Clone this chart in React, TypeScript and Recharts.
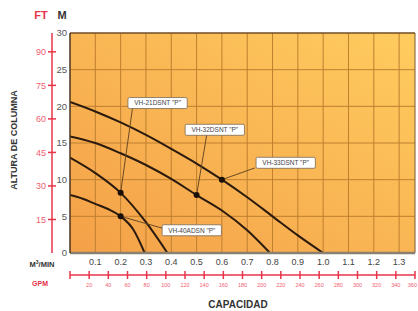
import React from "react";
import {
  CartesianGrid,
  LineChart,
  Line,
  ReferenceDot,
  ReferenceLine,
  XAxis,
  YAxis,
} from "recharts";

// pump curves: capacity in m3/min, head in m
const capA = [0, 0.05, 0.1, 0.15, 0.2, 0.25, 0.295];
const headA = [7.9, 7.4, 6.7, 6.0, 5.0, 3.2, 0];
const capB = [0, 0.1, 0.2, 0.3, 0.385];
const headB = [13.0, 10.9, 8.2, 4.2, 0];
const capC = [0, 0.1, 0.2, 0.3, 0.4, 0.5, 0.6, 0.7, 0.79];
const headC = [15.9, 15.0, 13.6, 12.0, 10.1, 7.9, 5.8, 3.1, 0];
const capD = [0, 0.1, 0.2, 0.3, 0.4, 0.5, 0.6, 0.7, 0.8, 0.9, 1.0];
const headD = [20.6, 19.3, 17.8, 16.1, 14.2, 12.2, 10.0, 7.6, 5.0, 2.4, 0];

const mTicks = [0, 5, 10, 15, 20, 25, 30];
const ftTicks = [15, 30, 45, 60, 75, 90];
const capTicks = [0.1, 0.2, 0.3, 0.4, 0.5, 0.6, 0.7, 0.8, 0.9, 1.0, 1.1, 1.2, 1.3];
const gpmTicks = [0, 20, 40, 60, 80, 100, 120, 140, 160, 180, 200, 220, 240, 260, 280, 300, 320, 340, 360];

// operating points and callouts
const pumpNames = ['VH-40ADSN "P"', 'VH-21DSNT "P"', 'VH-32DSNT "P"', 'VH-33DSNT "P"'];
const pointCap = [0.2, 0.2, 0.5, 0.6];
const pointHead = [5.0, 8.2, 7.9, 10.0];
const labelCap = [0.481, 0.346, 0.572, 0.852];
const labelHead = [3.1, 20.45, 16.8, 12.3];
const leaderCap = [0.394, 0.247, 0.54, 0.73];
const leaderHead = [3.1, 19.8, 16.1, 11.6];

const GPM_MAX = 360;
const CAP_MAX = GPM_MAX * 0.0037854;
const FT_MAX = 30 * 3.2808;

const toRows = (c: number[], h: number[]) => c.map((x, i) => ({ cap: x, head: h[i] }));
const series = [toRows(capA, headA), toRows(capB, headB), toRows(capC, headC), toRows(capD, headD)];
// invisible series so the secondary (GPM / FT) axes get a scale
const unitRange = [
  { gpm: 0, ft: 0 },
  { gpm: GPM_MAX, ft: FT_MAX },
];

const RED = "#e8344a";
const FONT = "Arial, 'Liberation Sans', sans-serif";

const FtTick = (p: any) => (
  <g>
    <line x1={p.x - 4} x2={p.x + 4} y1={p.y} y2={p.y} stroke={RED} strokeWidth={1.5} />
    <text x={p.x - 6} y={p.y} dy={3.5} textAnchor="end" fontSize={9} fill="#f06070" fontFamily={FONT}>
      {p.payload.value}
    </text>
  </g>
);

const GpmTick = (p: any) => {
  const last = p.payload.value === GPM_MAX;
  return (
    <g>
      <line x1={p.x} x2={p.x} y1={p.y - 4} y2={p.y + 4} stroke={RED} strokeWidth={1.5} />
      {p.payload.value > 0 && (
        <text
          x={last ? p.x + 2 : p.x}
          y={p.y + 12}
          textAnchor={last ? "end" : "middle"}
          fontSize={5.5}
          fill="#f06070"
          fontFamily={FONT}
        >
          {p.payload.value}
        </text>
      )}
    </g>
  );
};

const Callout = (text: string) => (p: any) => {
  const w = text.length * 4.1 + 6;
  return (
    <g>
      <rect x={p.cx - w / 2} y={p.cy - 5.5} width={w} height={11} rx={1.5} fill="#fff" stroke="#7a6a55" strokeWidth={0.8} />
      <text x={p.cx} y={p.cy} dy={2.3} textAnchor="middle" fontSize={6.5} fill="#444" fontFamily={FONT}>
        {text}
      </text>
    </g>
  );
};

export default function App() {
  return (
    <div style={{ position: "absolute", left: 0, top: 0, width: 418, height: 311, background: "#fff" }}>
      <LineChart width={418} height={311} margin={{ top: 33, right: 3, left: 0, bottom: 16 }}>
        <defs>
          <linearGradient id="bg" x1="0" y1="1" x2="1" y2="0">
            <stop offset="0%" stopColor="#f4a048" />
            <stop offset="55%" stopColor="#fab855" />
            <stop offset="100%" stopColor="#ffcc5f" />
          </linearGradient>
        </defs>
        <CartesianGrid
          xAxisId="cap"
          yAxisId="a"
          fill="url(#bg)"
          stroke="#bf7f30"
          strokeWidth={1}
          horizontalValues={mTicks}
          verticalValues={capTicks}
        />
        <XAxis
          xAxisId="cap"
          dataKey="cap"
          type="number"
          domain={[0, CAP_MAX]}
          ticks={capTicks}
          tickFormatter={(v: number) => v.toFixed(1)}
          height={22}
          axisLine={{ stroke: "#8a8070", strokeWidth: 2.5 }}
          tickLine={false}
          tickSize={0}
          tickMargin={6}
          tick={{ fontSize: 9, fill: "#444", fontFamily: FONT }}
          allowDataOverflow
        />
        <XAxis
          xAxisId="gpm"
          dataKey="gpm"
          type="number"
          domain={[0, GPM_MAX]}
          ticks={gpmTicks}
          height={20}
          axisLine={{ stroke: RED, strokeWidth: 1.5 }}
          tickLine={false}
          tickSize={0}
          tickMargin={0}
          tick={<GpmTick />}
          interval={0}
          allowDataOverflow
        />
        <YAxis
          yAxisId="z"
          type="number"
          domain={[0, FT_MAX]}
          ticks={ftTicks}
          width={52}
          axisLine={{ stroke: RED, strokeWidth: 1.5 }}
          tickLine={false}
          tickSize={0}
          tickMargin={0}
          tick={<FtTick />}
          interval={0}
          allowDataOverflow
        />
        <YAxis
          yAxisId="a"
          type="number"
          domain={[0, 30]}
          ticks={mTicks}
          width={18}
          axisLine={{ stroke: "#4a3520", strokeWidth: 1.5 }}
          tickLine={false}
          tickSize={0}
          tickMargin={3}
          tick={{ fontSize: 9.5, fill: "#555", fontFamily: FONT }}
          interval={0}
          allowDataOverflow
        />
        <Line
          xAxisId="gpm"
          yAxisId="z"
          data={unitRange}
          dataKey="ft"
          stroke="none"
          dot={false}
          activeDot={false}
          isAnimationActive={false}
        />
        <ReferenceLine xAxisId="cap" yAxisId="a" x={CAP_MAX} stroke="#7a5a30" strokeWidth={1} />
        <ReferenceLine xAxisId="cap" yAxisId="a" y={30} stroke="#4a3520" strokeWidth={1.2} />
        {series.map((d, i) => (
          <Line
            key={i}
            xAxisId="cap"
            yAxisId="a"
            data={d}
            dataKey="head"
            type="monotone"
            stroke="#2b1a0e"
            strokeWidth={2}
            dot={false}
            activeDot={false}
            isAnimationActive={false}
          />
        ))}
        {pumpNames.map((n, i) => (
          <ReferenceLine
            key={"l" + i}
            xAxisId="cap"
            yAxisId="a"
            segment={[
              { x: pointCap[i], y: pointHead[i] },
              { x: leaderCap[i], y: leaderHead[i] },
            ]}
            stroke="#6a4a25"
            strokeWidth={1}
          />
        ))}
        {pumpNames.map((n, i) => (
          <ReferenceDot
            key={"d" + i}
            xAxisId="cap"
            yAxisId="a"
            x={pointCap[i]}
            y={pointHead[i]}
            r={3}
            fill="#1a1008"
            stroke="none"
          />
        ))}
        {pumpNames.map((n, i) => (
          <ReferenceDot
            key={"c" + i}
            xAxisId="cap"
            yAxisId="a"
            x={labelCap[i]}
            y={labelHead[i]}
            r={1}
            shape={Callout(n)}
          />
        ))}
      </LineChart>
      <svg width={418} height={311} style={{ position: "absolute", left: 0, top: 0, pointerEvents: "none" }}>
        <text x={41} y={19} textAnchor="middle" fontSize={11} fontWeight="bold" fill={RED} fontFamily={FONT}>FT</text>
        <text x={62} y={19} textAnchor="middle" fontSize={11} fontWeight="bold" fill="#333" fontFamily={FONT}>M</text>
        <text x={17} y={140} transform="rotate(-90 17 140)" textAnchor="middle" fontSize={9} fontWeight="bold" fill="#333" fontFamily={FONT}>
          ALTURA DE COLUMNA
        </text>
        <text x={42} y={267} textAnchor="middle" fontSize={7.5} fontWeight="bold" fill="#333" fontFamily={FONT}>
          M<tspan dy={-3} fontSize={5}>3</tspan><tspan dy={3}>/MIN</tspan>
        </text>
        <text x={40} y={286} textAnchor="middle" fontSize={7} fontWeight="bold" fill={RED} fontFamily={FONT}>GPM</text>
        <text x={238} y={308} textAnchor="middle" fontSize={10} fontWeight="bold" fill="#333" fontFamily={FONT}>CAPACIDAD</text>
      </svg>
    </div>
  );
}
